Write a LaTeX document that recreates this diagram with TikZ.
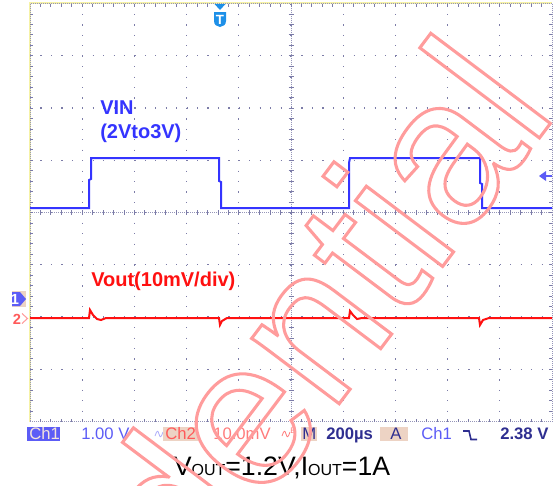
\documentclass[tikz,border=0pt]{standalone}
\usepackage{fontspec}
\setmainfont{Liberation Sans}
\definecolor{gridc}{HTML}{7C7CA8}
\definecolor{bordy}{HTML}{F6F2A6}
\definecolor{vinc}{HTML}{3434FF}
\definecolor{voutc}{HTML}{FF1010}
\definecolor{wmc}{HTML}{FF9C9C}
\definecolor{trigc}{HTML}{1E90E8}
\definecolor{tanc}{HTML}{EDD3C4}
\definecolor{navyc}{HTML}{2E2E90}
\definecolor{ch1c}{HTML}{5C5CF6}
\definecolor{ch2c}{HTML}{FF5A5A}
\begin{document}
\begin{tikzpicture}[x=0.75pt, y=-0.75pt,
    griddot/.style={gridc, line width=0.9pt, dash pattern=on 0.9pt off 6.93pt},
    gridfine/.style={gridc!80, line width=0.75pt, dash pattern=on 0.75pt off 0.75pt},
    gridtick/.style={gridc, line width=0.6pt},
    trace/.style={line width=1.5pt, line join=miter},
    tagbox/.style={fill=tanc, draw=none},
    bar/.style={anchor=base west, inner sep=0pt, font=\fontsize{12.5}{13}\selectfont},
    label/.style={anchor=base west, inner sep=0pt, align=left, font=\bfseries\fontsize{15}{17.5}\selectfont}]
    \useasboundingbox (0,0) rectangle (558,486);
    \clip (0,0) rectangle (558,486);
    % screen grid
    \begin{scope}
      \draw[bordy, line width=1.5pt] (29.5,421.5) -- (29.5,3) -- (552,3);
      \draw[gridfine] (30,3.5) rectangle (552,421.5);
      \foreach \i in {1,...,9}
        \draw[griddot] ({30+52.2*\i},3.5) -- ({30+52.2*\i},421.5);
      \foreach \j in {1,...,7}
        \draw[griddot] (30,{3.5+52.25*\j}) -- (552,{3.5+52.25*\j});
      \draw[gridfine] (30,212.5) -- (552,212.5);
      \draw[gridfine] (291,3.5) -- (291,421.5);
      \foreach \k in {1,...,49} {
        \draw[gridtick] ({30+10.44*\k},3.5) -- ++(0,3);
        \draw[gridtick] ({30+10.44*\k},421.5) -- ++(0,-3);
        \draw[gridtick] ({30+10.44*\k},210) -- ++(0,5);
      }
      \foreach \k in {1,...,39} {
        \draw[gridtick] (30,{3.5+10.45*\k}) -- ++(3,0);
        \draw[gridtick] (552,{3.5+10.45*\k}) -- ++(-3,0);
        \draw[gridtick] (288.5,{3.5+10.45*\k}) -- ++(5,0);
      }
    \end{scope}
    % input step
    \draw[trace, vinc] (30,208) -- (89,208) -- (89,180) -- (91,179) -- (91,158)
      -- (219,158) -- (219,181) -- (221,182) -- (221,208) -- (349,208) -- (349,163)
      -- (350,158) -- (480,158) -- (480,183) -- (482,184) -- (482,208) -- (552,208);
    % output ripple
    \draw[trace, voutc] (30,318) -- (89,318) -- (90,310) -- (93,315) -- (97,319)
      -- (101,320) -- (106,318) -- (219,318) -- (220,325) -- (222,321) -- (227,318)
      -- (349,318) -- (350,311) -- (353,315) -- (357,319) -- (362,318) -- (479,318)
      -- (480,325) -- (483,320) -- (489,318) -- (552,318);
    \node[label, text=vinc] (vin) at (100,138) {VIN\\(2Vto3V)};
    \node[label, text=voutc] (vout) at (91,286) {Vout(10mV/div)};
    % channel markers
    \fill[tanc] (12,291) rectangle (26,307);
    \fill[ch1c] (12,292) -- (20,292) -- (26,299) -- (20,306) -- (12,306) -- cycle;
    \node[white, inner sep=0pt, font=\bfseries\fontsize{11}{11}\selectfont] (m1) at (15,299) {1};
    \node[ch2c, inner sep=0pt, font=\bfseries\fontsize{11}{11}\selectfont] (m2) at (17,319) {2};
    \draw[ch2c!60, line width=0.8pt] (22,313.5) -- (27.5,318.5) -- (22,323.5);
    % trigger position and level
    \fill[trigc] (214.5,4) -- (225.5,4) -- (220,10) -- cycle;
    \fill[trigc] (214,12) -- (226,12) -- (226,21) .. controls (226,25) and (223,26.5) .. (220,27)
      .. controls (217,26.5) and (214,25) .. (214,21) -- cycle;
    \node[white, inner sep=0pt, font=\bfseries\fontsize{10}{10}\selectfont] (trig) at (220,19.5) {T};
    \fill[ch1c] (539,176) -- (546,171) -- (546,181) -- cycle;
    \draw[ch1c, line width=1pt] (546,176) -- (552,176);
    % status bar
    \fill[ch1c] (27,427) rectangle (60,441);
    \node[bar, text=tanc!60!white] (ch1) at (29,439.5) {Ch1};
    \node[bar, text=ch1c] (vdiv1) at (81,439.5) {1.00 V};
    \draw[ch1c!50, line width=0.6pt] (155,436) .. controls (157,430) and (158,430) .. (159,434)
      .. controls (160,438) and (161,438) .. (163,432);
    \fill[tanc] (163,427) rectangle (198,441);
    \node[bar, text=ch2c] (ch2) at (165,439.5) {Ch2};
    \node[bar, text=ch2c!80] (vdiv2) at (213,439.5) {10.0mV};
    \draw[ch2c!80, line width=0.6pt] (282,436) .. controls (284,430) and (285,430) .. (286,434)
      .. controls (287,438) and (288,438) .. (290,432);
    \node[anchor=base west, inner sep=0pt, text=ch2c!80, font=\fontsize{6}{6}\selectfont] (bw) at (290,433) {B};
    \fill[tanc] (301,427) rectangle (317,441);
    \node[bar, text=navyc] (mm) at (302,439.5) {M};
    \node[bar, text=navyc, font=\bfseries\fontsize{12.5}{13}\selectfont] (tdiv) at (326,439.5) {200µs};
    \fill[tanc] (380,427) rectangle (408,441);
    \node[bar, text=navyc] (aa) at (390,439.5) {A};
    \node[bar, text=ch1c] (src) at (421,439.5) {Ch1};
    \draw[navyc, line width=1.2pt] (463,431) -- (469,431) -- (471,439.5) -- (477,439.5);
    \node[bar, text=navyc, font=\bfseries\fontsize{12.5}{13}\selectfont] (lvl) at (500,439.5) {2.38 V};
    % caption
    \node[anchor=base, inner sep=0pt, font=\fontsize{20}{22}\selectfont] (cap) at (282,475)
      {V{\fontsize{12}{12}\selectfont OUT}=1.2V,I{\fontsize{12}{12}\selectfont OUT}=1A};
    % watermark
    \node[anchor=base east, rotate=53, inner sep=0pt, text=wmc, font=\fontsize{155}{160}\selectfont] (conf) at (559,112)
      {\special{pdf:literal direct 1 Tr 2.3 w}Confidential\special{pdf:literal direct 0 Tr}};
\end{tikzpicture}
\end{document}
